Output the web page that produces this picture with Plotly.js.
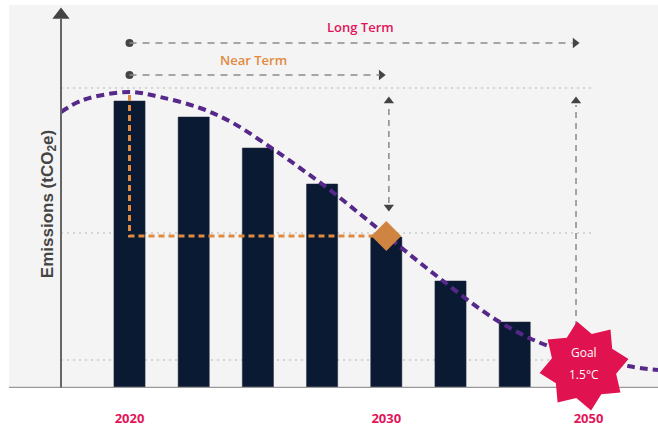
<!DOCTYPE html>
<html>
<head>
<meta charset="utf-8">
<script src="https://cdn.plot.ly/plotly-3.0.1.min.js"></script>
<style>html,body{margin:0;padding:0;background:#fff;}#chart{width:658px;height:428px;}</style>
</head>
<body>
<div id="chart"></div>
<script>
// ---- data ----
const barX = [0, 1, 2, 3, 4, 5, 6];
const barValues = [286, 270, 239, 203, 150, 106, 65];
const tickPositions = [0, 4, 7.15];
const tickLabels = ["2020", "2030", "2050"];
const pathwayX = [-1.067, -0.724, 0, 0.475, 1.098, 1.612, 2.188, 2.656, 3.123, 3.590, 4.011, 4.805, 5.740, 6.565, 7.765, 8.232];
const pathwayY = [275, 287, 295, 290, 279, 264, 240, 219, 197, 173, 151, 110, 66, 40, 21, 17];
const targetX = [4];
const targetY = [151];
const gridValues = [27, 154, 299];
const nearTermLevel = 312;
const longTermLevel = 344;
const nearTermEnd = 4;
const longTermEnd = 7;
const goalX = 7.08;
const goalY = 21;

const xRange = [-1.877, 8.232];
const yRange = [-1, 382];

const C = {
  bar: '#0b1a33', curve: '#55288a', orange: '#df8a3e', pink: '#e2155a',
  gray: '#8a8a8a', dark: '#444444', grid: '#c9c9c9', bg: '#f4f4f4'
};
const axisX = -1.067;

const traces = [
  { type: 'bar', x: barX, y: barValues, width: 0.485,
    marker: { color: C.bar, line: { color: '#1c2638', width: 0.5 } },
    hoverinfo: 'skip', showlegend: false },
  { type: 'scatter', mode: 'lines',
    x: [barX[0], barX[0], targetX[0]], y: [292, targetY[0], targetY[0]],
    line: { color: C.orange, width: 3, dash: '6px,4px' }, hoverinfo: 'skip', showlegend: false },
  { type: 'scatter', mode: 'lines', x: pathwayX, y: pathwayY,
    line: { color: C.curve, width: 4, dash: '8px,5px', shape: 'spline', smoothing: 1 },
    hoverinfo: 'skip', showlegend: false, cliponaxis: true },
  { type: 'scatter', mode: 'markers', x: targetX, y: targetY,
    marker: { symbol: 'diamond', size: 23, color: '#cf8441' }, hoverinfo: 'skip', showlegend: false },
  { type: 'scatter', mode: 'markers', x: [0, 0], y: [longTermLevel, nearTermLevel],
    marker: { symbol: 'circle', size: 8, color: C.dark }, hoverinfo: 'skip', showlegend: false, cliponaxis: false },
  { type: 'scatter', mode: 'markers', x: [nearTermEnd - 0.08, longTermEnd - 0.06], y: [nearTermLevel, longTermLevel],
    marker: { symbol: 'triangle-right', size: 9, color: C.dark }, hoverinfo: 'skip', showlegend: false, cliponaxis: false },
  { type: 'scatter', mode: 'markers', x: [4.04, 6.955], y: [286, 286],
    marker: { symbol: 'triangle-up', size: 9, color: C.dark }, hoverinfo: 'skip', showlegend: false },
  { type: 'scatter', mode: 'markers', x: [4.04], y: [180],
    marker: { symbol: 'triangle-down', size: 9, color: C.dark }, hoverinfo: 'skip', showlegend: false },
  { type: 'scatter', mode: 'markers', x: [axisX], y: [372],
    marker: { symbol: 'triangle-up', size: 15, color: C.dark }, hoverinfo: 'skip', showlegend: false, cliponaxis: false }
];

function starPath(R, r, n, rotDeg) {
  let d = '';
  for (let i = 0; i < 2 * n; i++) {
    const rad = (i % 2 === 0) ? R : r;
    const a = (rotDeg - 90 + i * 180 / n) * Math.PI / 180;
    const px = rad * Math.cos(a), py = -rad * Math.sin(a);
    d += (i === 0 ? 'M' : 'L') + px.toFixed(2) + ',' + py.toFixed(2);
  }
  return d + 'Z';
}
const toPaperX = v => (v - xRange[0]) / (xRange[1] - xRange[0]);
const toPaperY = v => (v - yRange[0]) / (yRange[1] - yRange[0]);

const shapes = [];
gridValues.forEach(v => shapes.push({
  type: 'line', xref: 'x', yref: 'y', x0: axisX, x1: 7.2, y0: v, y1: v, layer: 'below',
  line: { color: C.grid, width: 1.3, dash: '2px,4px' }
}));
shapes.push({ type: 'line', xref: 'paper', yref: 'y', x0: 0, x1: 1, y0: -0.5, y1: -0.5,
  line: { color: '#9a9a9a', width: 1.5 }, layer: 'above' });
shapes.push({ type: 'line', xref: 'x', yref: 'y', x0: axisX, x1: axisX, y0: -0.5, y1: 368,
  line: { color: '#666', width: 2 }, layer: 'above' });
shapes.push({ type: 'line', xref: 'x', yref: 'y', x0: 0, x1: longTermEnd - 0.1, y0: longTermLevel, y1: longTermLevel,
  line: { color: C.gray, width: 1.5, dash: '7px,6px' } });
shapes.push({ type: 'line', xref: 'x', yref: 'y', x0: 0, x1: nearTermEnd - 0.1, y0: nearTermLevel, y1: nearTermLevel,
  line: { color: C.gray, width: 1.5, dash: '7px,6px' } });
shapes.push({ type: 'line', xref: 'x', yref: 'y', x0: 4.04, x1: 4.04, y0: 184, y1: 282,
  line: { color: C.gray, width: 1.5, dash: '6px,5px' } });
shapes.push({ type: 'line', xref: 'x', yref: 'y', x0: 6.955, x1: 6.955, y0: 60, y1: 282,
  line: { color: C.gray, width: 1.5, dash: '6px,5px' } });
// goal star (paper-referenced so it is not clipped at the baseline)
shapes.push({ type: 'path', xref: 'paper', yref: 'paper', xsizemode: 'pixel', ysizemode: 'pixel',
  xanchor: toPaperX(goalX), yanchor: toPaperY(goalY), path: starPath(45, 33, 8, -9),
  fillcolor: '#e0124f', line: { width: 0 }, layer: 'above' });

const annotations = [
  { xref: 'x', yref: 'y', x: 3.596, y: 360, text: 'Long Term', showarrow: false,
    font: { family: 'Open Sans', size: 13, color: C.pink, weight: 600 } },
  { xref: 'x', yref: 'y', x: 1.925, y: 327, text: 'Near Term', showarrow: false,
    font: { family: 'Open Sans', size: 13, color: C.orange, weight: 600 } },
  { xref: 'x', yref: 'y', x: goalX, y: goalY + 14, text: 'Goal', showarrow: false,
    font: { family: 'Open Sans', size: 12, color: '#ffffff', weight: 500 } },
  { xref: 'x', yref: 'y', x: goalX, y: goalY - 8, text: '1.5°C', showarrow: false,
    font: { family: 'Open Sans', size: 12, color: '#ffffff', weight: 500 } },
  { xref: 'paper', yref: 'paper', x: 0.0416, y: 0.48, textangle: -90, showarrow: false,
    text: 'Emissions (tCO<sub>2</sub>e)',
    font: { family: 'Liberation Sans', size: 17, color: '#444', weight: 'bold' } }
];

const layout = {
  width: 658, height: 428,
  margin: { l: 9, r: 0, t: 5, b: 40 },
  paper_bgcolor: '#ffffff', plot_bgcolor: C.bg,
  showlegend: false,
  xaxis: { range: xRange, tickvals: tickPositions, ticktext: tickLabels,
    ticks: 'outside', ticklen: 18, tickcolor: 'rgba(0,0,0,0)', showgrid: false, zeroline: false,
    showline: false, fixedrange: true,
    tickfont: { family: 'Open Sans', size: 13, color: C.pink, weight: 700 } },
  yaxis: { range: yRange, showgrid: false, zeroline: false, showticklabels: false,
    showline: false, fixedrange: true },
  shapes: shapes, annotations: annotations
};

Plotly.newPlot('chart', traces, layout, { displayModeBar: false, staticPlot: true });
</script>
</body>
</html>
